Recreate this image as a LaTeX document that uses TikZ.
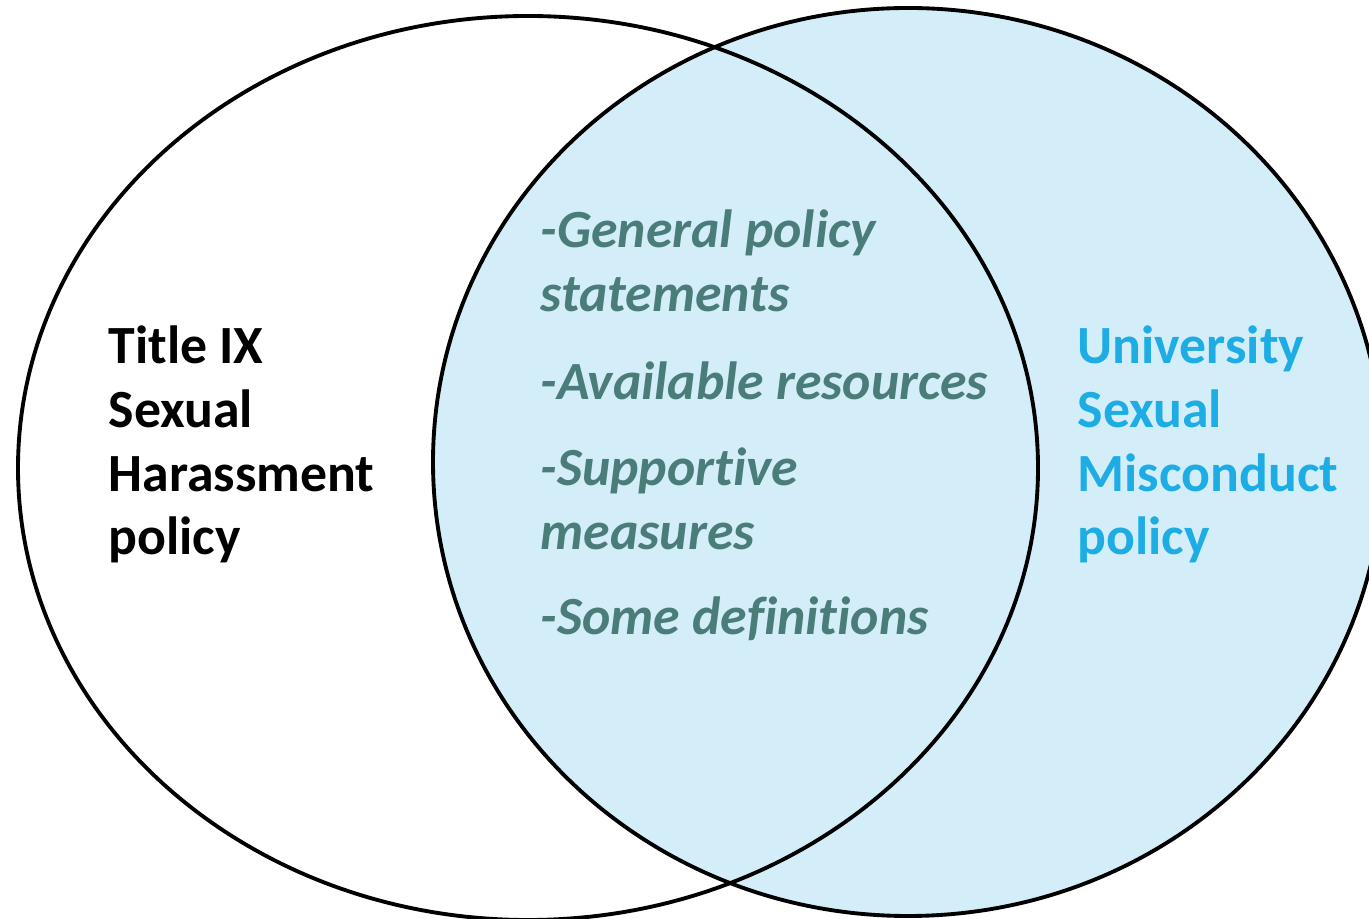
\documentclass[tikz,border=0pt]{standalone}
\usepackage{fontspec}
\setmainfont{Carlito}[Ligatures=NoCommon]
\usepackage{tikz}
\definecolor{setfill}{HTML}{D4EEF9}
\definecolor{setblue}{HTML}{1DADE4}
\definecolor{overlapteal}{HTML}{4A7D79}
\tikzset{
    setline/.style={line width=1.1pt,draw=black},
    label/.style={align=left,inner sep=0pt,anchor=base west,font=\bfseries\fontsize{15.3}{18.2}\selectfont},
    shared/.style={label,text=overlapteal,font=\bfseries\itshape\fontsize{15.3}{18.2}\selectfont}
}

\begin{document}
\begin{tikzpicture}[x=1cm,y=1cm]
    \useasboundingbox (0,0) rectangle (13.69,-9.19);
    \begin{scope}
        \clip (0,0) rectangle (13.69,-9.19);
        % university set first, then both outlines on top
        \fill[setfill] (9.08,-4.62) ellipse [x radius=4.75,y radius=4.54];
        \draw[setline] (9.08,-4.62) ellipse [x radius=4.75,y radius=4.54];
        \draw[setline] (5.28,-4.68) ellipse [x radius=5.10,y radius=4.52];
    \end{scope}
    % base west sits on the last line
    \node[label] (titleix) at (1.08,-5.55) {Title IX\\Sexual\\Harassment\\policy};
    \node[label,text=setblue] (univ) at (10.77,-5.55) {University\\Sexual\\Misconduct\\policy};
    \node[shared] (common) at (5.40,-6.35) {-General policy\\statements\\[0.24cm]
        -Available resources\\[0.22cm]
        -Supportive\\measures\\[0.22cm]
        -Some definitions};
\end{tikzpicture}
\end{document}
